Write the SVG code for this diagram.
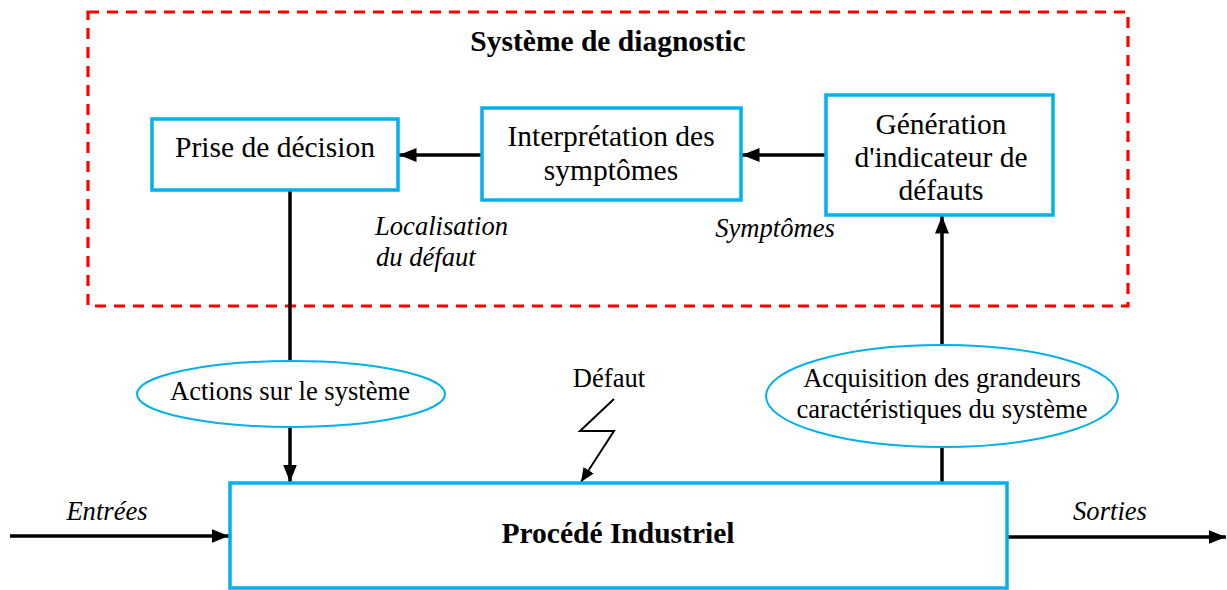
<svg xmlns="http://www.w3.org/2000/svg" width="1227" height="590" viewBox="0 0 1227 590">
  <style>
    .box { fill: #fff; stroke: #00B0F0; stroke-width: 3.5; }
    .ell { fill: #fff; stroke: #00B0F0; stroke-width: 2; }
    .t { font-family: "Liberation Serif", "Times New Roman", serif; font-size: 26.6px; fill: #000; text-anchor: middle; }
    .big { font-size: 29.5px; }
    .i { font-style: italic; }
    .b { font-weight: bold; }
    .s { text-anchor: start; }
    .ln { fill: none; stroke: #000; stroke-width: 3.5; }
    .thin { fill: none; stroke: #000; stroke-width: 2; }
  </style>
  <defs>
    <marker id="ah" markerWidth="5" markerHeight="4" refX="5" refY="2" orient="auto" markerUnits="strokeWidth">
      <path d="M0,0 L5,2 L0,4 Z" fill="#000"/>
    </marker>
    <marker id="ah2" markerWidth="7" markerHeight="6" refX="7" refY="3" orient="auto" markerUnits="strokeWidth">
      <path d="M0,0 L7,3 L0,6 Z" fill="#000"/>
    </marker>
  </defs>

  <rect width="1227" height="590" fill="#fff"/>

  <!-- diagnostic system frame -->
  <g id="diagnostic">
    <rect x="88" y="12" width="1040" height="294" fill="none" stroke="#FF0000" stroke-width="3.2" stroke-dasharray="11,8"/>
    <text class="t big b" x="608" y="51">Système de diagnostic</text>
  </g>

  <!-- connectors -->
  <g id="connectors">
    <line class="ln" x1="482" y1="155" x2="399" y2="155" marker-end="url(#ah)"/>
    <line class="ln" x1="826" y1="155" x2="742" y2="155" marker-end="url(#ah)"/>
    <line class="ln" x1="290" y1="190" x2="290" y2="361"/>
    <line class="ln" x1="290" y1="427" x2="290" y2="482" marker-end="url(#ah)"/>
    <line class="ln" x1="942" y1="483" x2="942" y2="447"/>
    <line class="ln" x1="942" y1="345" x2="942" y2="216" marker-end="url(#ah)"/>
    <line class="ln" x1="10" y1="536" x2="229" y2="536" marker-end="url(#ah)"/>
    <line class="ln" x1="1007" y1="537" x2="1226" y2="537" marker-end="url(#ah)"/>
    <polyline class="thin" points="614,399 580,431 614,431 581,482" marker-end="url(#ah2)"/>
  </g>

  <g id="prise">
    <rect class="box" x="152" y="119" width="246" height="71"/>
    <text class="t big" x="275" y="157">Prise de décision</text>
  </g>

  <g id="interpretation">
    <rect class="box" x="482" y="108" width="259" height="92"/>
    <text class="t big" x="611" y="146">Interprétation des</text>
    <text class="t big" x="611" y="180">symptômes</text>
  </g>

  <g id="generation">
    <rect class="box" x="826" y="95" width="227" height="120"/>
    <text class="t big" x="941" y="134">Génération</text>
    <text class="t big" x="941" y="167">d'indicateur de</text>
    <text class="t big" x="941" y="200">défauts</text>
  </g>

  <g id="actions">
    <ellipse class="ell" cx="291" cy="394" rx="154" ry="33"/>
    <text class="t" x="290" y="400">Actions sur le système</text>
  </g>

  <g id="acquisition">
    <ellipse class="ell" cx="942" cy="396" rx="176" ry="51"/>
    <text class="t" x="942" y="387">Acquisition des grandeurs</text>
    <text class="t" x="942" y="418">caractéristiques du système</text>
  </g>

  <g id="procede">
    <rect class="box" x="230" y="483" width="777" height="105"/>
    <text class="t big b" x="618" y="543">Procédé Industriel</text>
  </g>

  <g id="labels">
    <text class="t i s" x="375" y="235">Localisation</text>
    <text class="t i s" x="376" y="266">du défaut</text>
    <text class="t i" x="775" y="237">Symptômes</text>
    <text class="t" x="609" y="387">Défaut</text>
    <text class="t i" x="107" y="520">Entrées</text>
    <text class="t i" x="1110" y="520">Sorties</text>
  </g>
</svg>
